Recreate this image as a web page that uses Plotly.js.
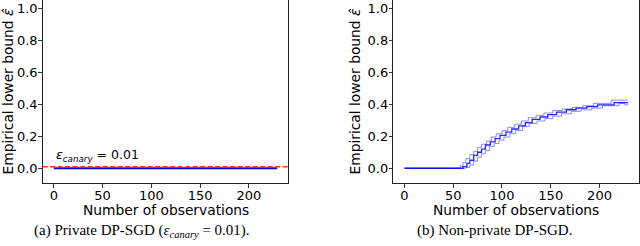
<!DOCTYPE html>
<html>
<head>
<meta charset="utf-8">
<script src="https://cdn.plot.ly/plotly-3.0.1.min.js"></script>
<style>html,body{margin:0;padding:0;background:#fff;}#chart{width:640px;height:246px;}</style>
</head>
<body>
<div id="chart"></div>
<script>
// ---- data ----
const canaryEps = 0.01;
const obsPrivate = [0, 229];
const epsPrivate = [0, 0];

const obsMid = [0, 57, 60, 64, 67, 71, 75, 79, 83, 88, 93, 98, 104, 110, 117, 124, 131, 139, 147, 156, 166, 176, 187, 198, 215, 229];
const epsMid = [0, 0, 0.01, 0.03, 0.05, 0.08, 0.10, 0.12, 0.145, 0.165, 0.185, 0.205, 0.225, 0.245, 0.265, 0.285, 0.305, 0.32, 0.335, 0.35, 0.365, 0.375, 0.385, 0.395, 0.41, 0.41];

const obsUpper = [0, 55, 57, 60, 63, 67, 71, 75, 79, 84, 89, 94, 100, 106, 113, 120, 127, 135, 143, 152, 162, 172, 183, 194, 212, 229];
const epsUpper = [0, 0, 0.015, 0.035, 0.06, 0.085, 0.105, 0.13, 0.15, 0.17, 0.195, 0.215, 0.235, 0.255, 0.275, 0.295, 0.315, 0.33, 0.345, 0.36, 0.37, 0.38, 0.39, 0.405, 0.425, 0.425];

const obsLower = [0, 60, 63, 67, 71, 75, 79, 83, 87, 92, 97, 102, 108, 114, 121, 128, 136, 144, 152, 161, 171, 181, 192, 203, 220, 226, 229];
const epsLower = [0, 0, 0.005, 0.02, 0.045, 0.07, 0.09, 0.11, 0.135, 0.155, 0.175, 0.195, 0.215, 0.235, 0.26, 0.28, 0.295, 0.31, 0.325, 0.34, 0.355, 0.365, 0.375, 0.39, 0.405, 0.395, 0.405];

const xTicks = [0, 50, 100, 150, 200];
const yTicks = [0.0, 0.2, 0.4, 0.6, 0.8, 1.0];

const xTitle = 'Number of observations';
const yTitle = 'Empirical lower bound <i>ε̂</i>';
const captionA = '(a) Private DP-SGD (<i>ε<sub>canary</sub></i> = 0.01).';
const captionB = '(b) Non-private DP-SGD.';
const canaryLabel = '<i>ε<sub>canary</sub></i> = 0.01';

// ---- chart ----
const blue = 'rgba(0,0,255,';
const traces = [
  {x: obsPrivate, y: epsPrivate, xaxis: 'x', yaxis: 'y', mode: 'lines',
   line: {color: 'rgb(0,0,255)', width: 2}, hoverinfo: 'skip'},
  {x: obsUpper, y: epsUpper, xaxis: 'x2', yaxis: 'y2', mode: 'lines',
   line: {color: blue + '0.45)', width: 1, shape: 'hv'}, hoverinfo: 'skip'},
  {x: obsLower, y: epsLower, xaxis: 'x2', yaxis: 'y2', mode: 'lines',
   line: {color: blue + '0.45)', width: 1, shape: 'hv'}, hoverinfo: 'skip'},
  {x: obsMid, y: epsMid, xaxis: 'x2', yaxis: 'y2', mode: 'lines',
   line: {color: blue + '0.85)', width: 1.3, shape: 'hv'}, hoverinfo: 'skip'}
];

const tickFont = {family: 'DejaVu Sans', size: 13, color: '#000'};
const titleFont = {family: 'DejaVu Sans', size: 13.8, color: '#000'};

function xAxis(domain, anchor) {
  return {
    domain: domain, anchor: anchor, range: [-11.45, 240.45],
    tickvals: xTicks, ticks: 'outside', ticklen: 3.5, tickwidth: 0.8, tickcolor: '#000',
    showline: true, mirror: true, linecolor: '#222', linewidth: 1,
    showgrid: false, zeroline: false, tickfont: tickFont, ticklabelstandoff: -3
  };
}
function yAxis(anchor) {
  return {
    domain: [0, 1], anchor: anchor, range: [-0.092, 1.05],
    tickvals: yTicks, tickformat: '.1f', ticks: 'outside', ticklen: 3.5, tickwidth: 0.8, tickcolor: '#000',
    showline: true, mirror: true, linecolor: '#222', linewidth: 1,
    showgrid: false, zeroline: false, tickfont: tickFont, ticklabelstandoff: -2,
    title: {text: yTitle, font: titleFont, standoff: 3}
  };
}

const xTitleY = -0.145;
const captionY = -0.262;

const layout = {
  width: 640, height: 246,
  margin: {l: 0, r: 0, t: 0, b: 63},
  paper_bgcolor: '#fff', plot_bgcolor: '#fff',
  showlegend: false,
  xaxis: xAxis([0.0667, 0.4505], 'y'),
  yaxis: yAxis('x'),
  xaxis2: xAxis([0.6145, 0.9984], 'y2'),
  yaxis2: yAxis('x2'),
  shapes: [
    {type: 'line', xref: 'x domain', yref: 'y', x0: 0, x1: 1, y0: canaryEps, y1: canaryEps,
     line: {color: 'rgb(255,40,40)', width: 1.5, dash: '5px,2.5px'}}
  ],
  annotations: [
    {text: canaryLabel, xref: 'x', yref: 'y', x: 0, y: canaryEps, xanchor: 'left', yanchor: 'bottom',
     yshift: 1, showarrow: false, font: {family: 'DejaVu Sans', size: 12.5, color: '#000'}},
    {text: xTitle, xref: 'x domain', yref: 'paper', x: 0.5, y: xTitleY, xanchor: 'center', yanchor: 'middle',
     showarrow: false, font: titleFont},
    {text: xTitle, xref: 'x2 domain', yref: 'paper', x: 0.5, y: xTitleY, xanchor: 'center', yanchor: 'middle',
     showarrow: false, font: titleFont},
    {text: captionA, xref: 'paper', yref: 'paper', x: 142 / 640, y: captionY, xanchor: 'center', yanchor: 'middle',
     showarrow: false, font: {family: 'Liberation Serif', size: 15, color: '#000'}},
    {text: captionB, xref: 'paper', yref: 'paper', x: 494 / 640, y: captionY, xanchor: 'center', yanchor: 'middle',
     showarrow: false, font: {family: 'Liberation Serif', size: 15, color: '#000'}}
  ]
};

Plotly.newPlot('chart', traces, layout, {staticPlot: true, displayModeBar: false});
</script>
</body>
</html>
